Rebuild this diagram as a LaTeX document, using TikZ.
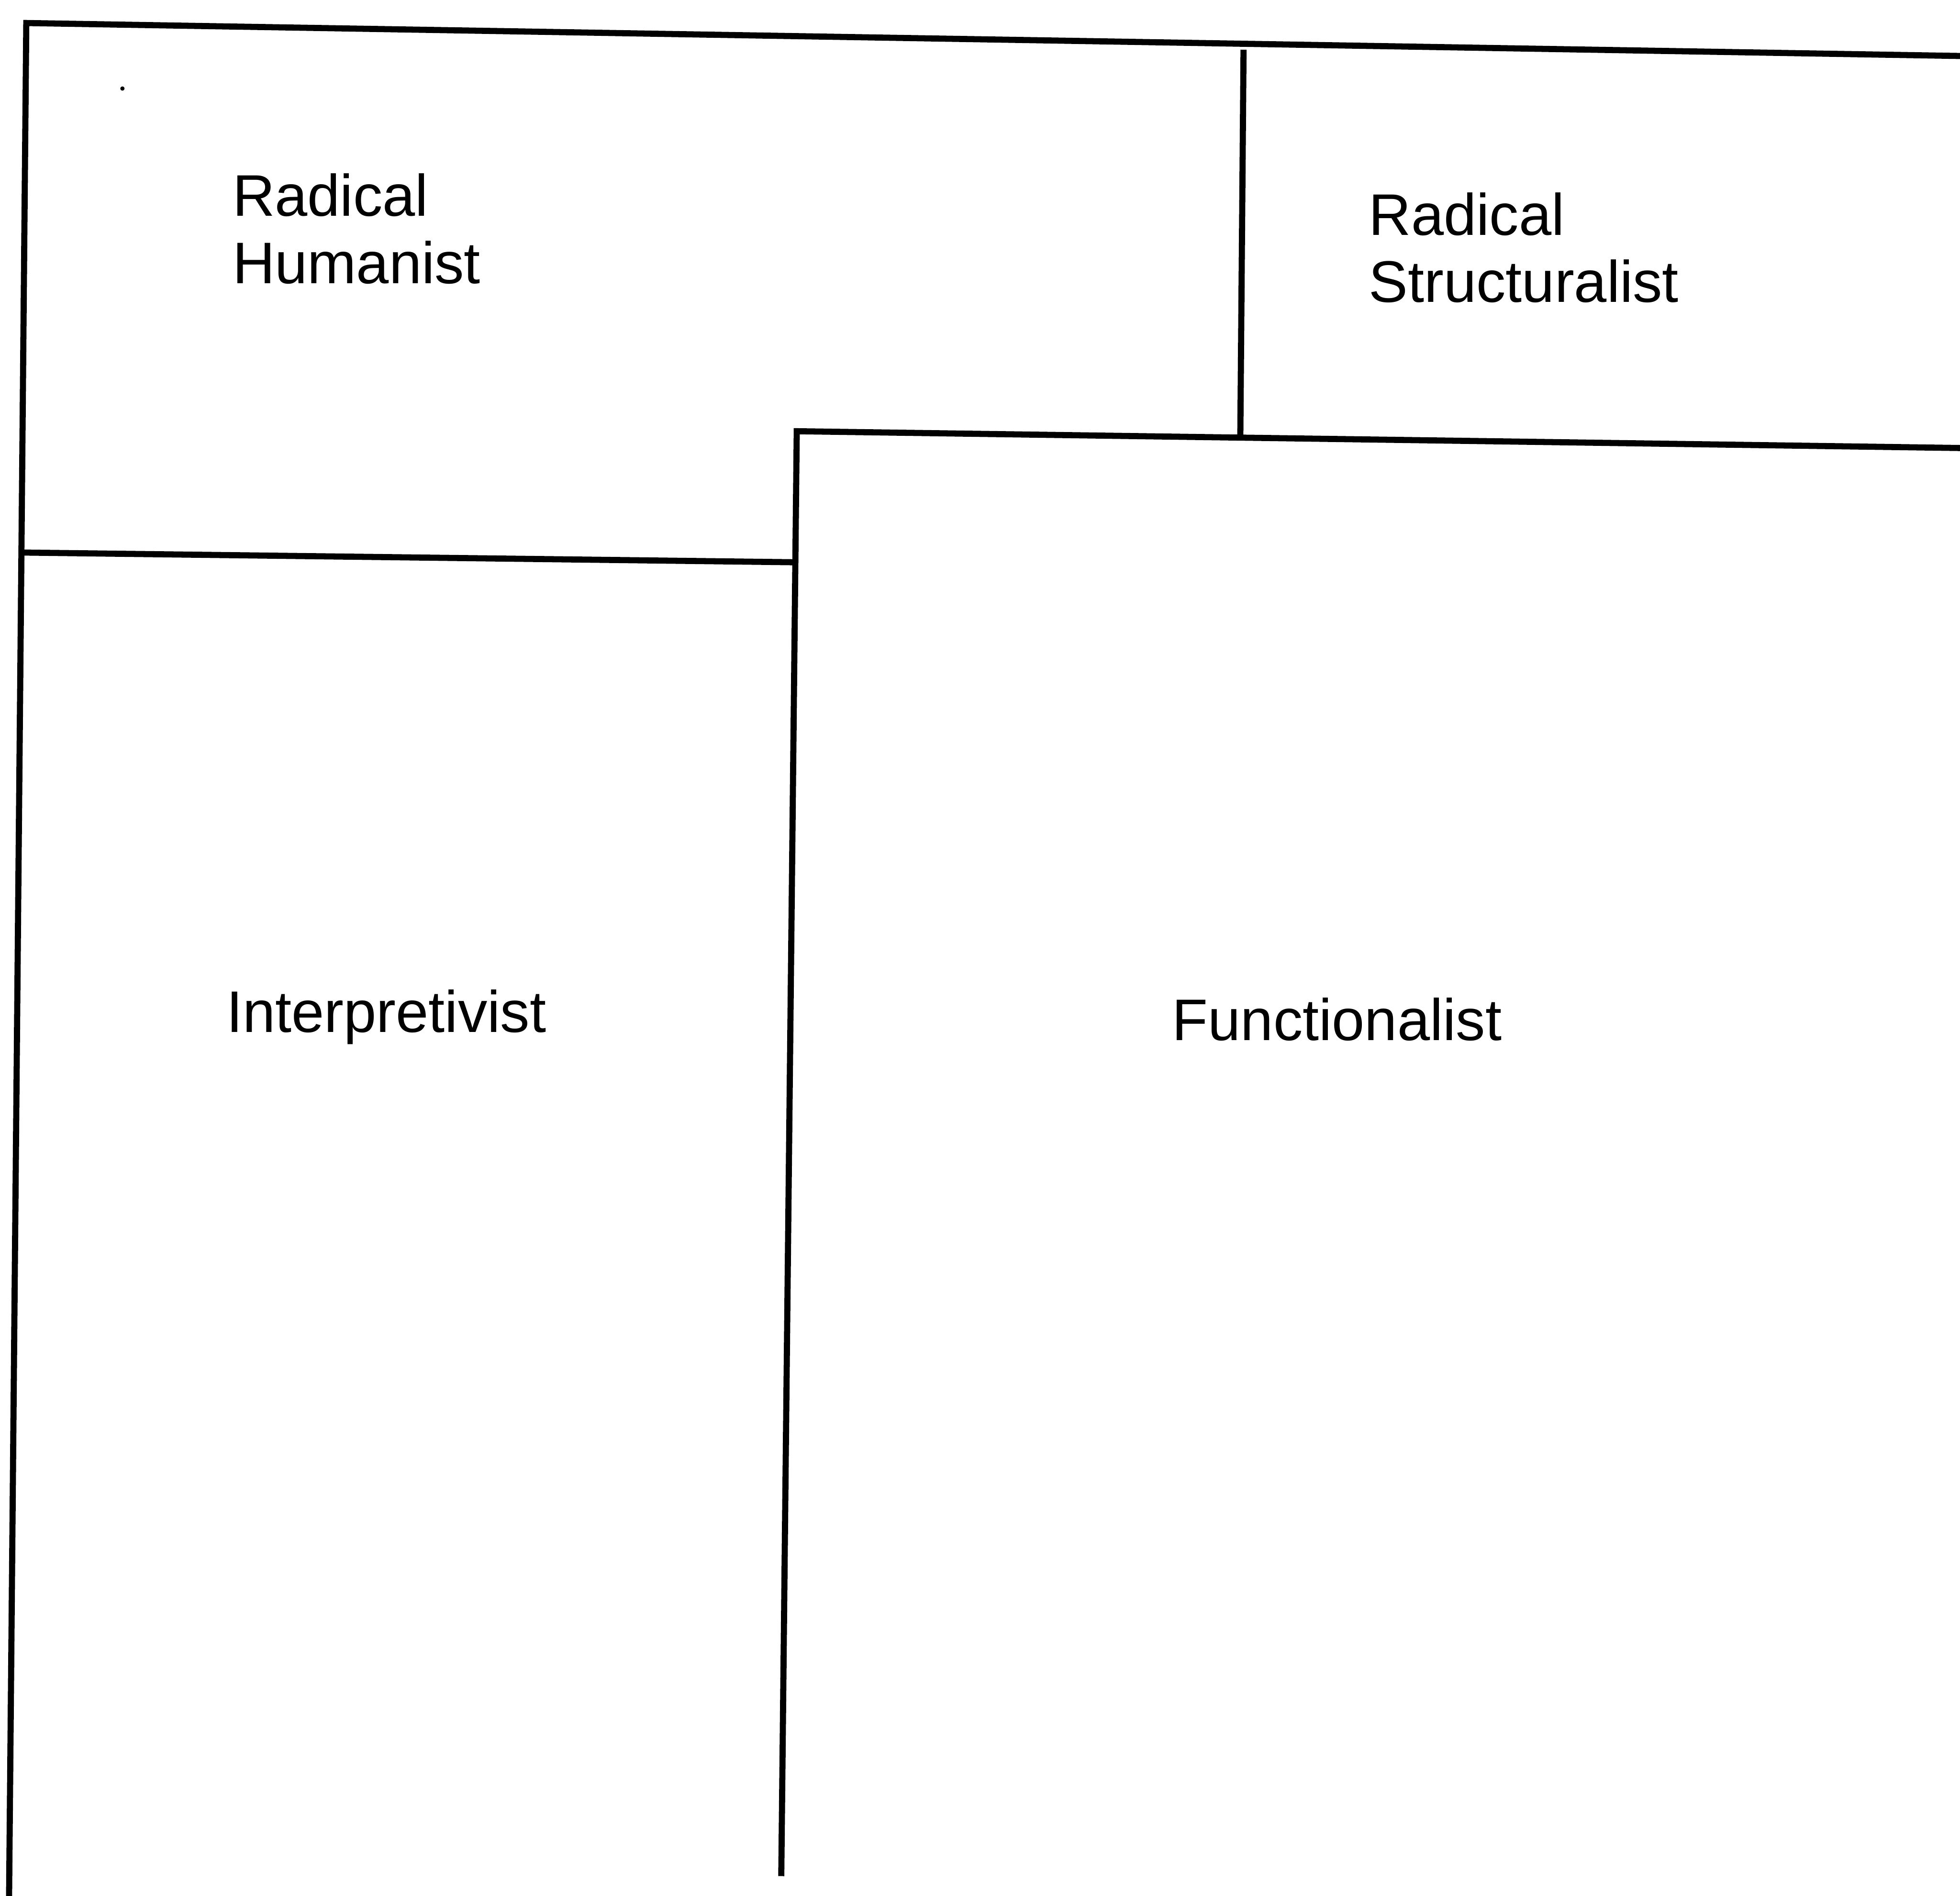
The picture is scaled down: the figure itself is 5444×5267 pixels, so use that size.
\documentclass[tikz,border=0pt]{standalone}
\usepackage{fontspec}
\setmainfont{Liberation Sans}
\begin{document}
\begin{tikzpicture}[
    x=0.1pt, y=-0.1pt,
    rule/.style={line width=1.7pt, line join=miter, line cap=butt},
    quadlabel/.style={inner sep=0pt, outer sep=0pt, anchor=base west,
      align=left, font=\fontsize{16.3}{18.7}\selectfont}
  ]
  \useasboundingbox (0,0) rectangle (5444,5267);

  % corner points of the frames
  \coordinate (outerR)  at (5470,156);
  \coordinate (outerTL) at (73,64);
  \coordinate (outerB)  at (25,5290);
  \coordinate (interL)  at (60,1535);
  \coordinate (interR)  at (2205,1562);
  \coordinate (funcR)   at (5470,1245);
  \coordinate (funcTL)  at (2213,1198);
  \coordinate (funcB)   at (2170,5212);
  \coordinate (divT)    at (3454,138);
  \coordinate (divB)    at (3445,1212);

  % outer frame (top and left edges)
  \draw[rule] (outerR) -- (outerTL) -- (outerB);
  % top edge of the interpretivist box
  \draw[rule] (interL) -- (interR);
  % functionalist box (top and left edges)
  \draw[rule] (funcR) -- (funcTL) -- (funcB);
  % divider between the two radical quadrants
  \draw[rule] (divT) -- (divB);

  % stray mark near the top-left corner
  \fill (340,246) circle[radius=0.6pt];

  % quadrant labels (anchored on the baseline of the last line)
  \node[quadlabel] (humanist) at (646,787) {Radical\\Humanist};
  \node[quadlabel] (structuralist) at (3802,840) {Radical\\Structuralist};
  \node[quadlabel] (interpretivist) at (629,2868) {Interpretivist};
  \node[quadlabel] (functionalist) at (3256,2890) {Functionalist};
\end{tikzpicture}
\end{document}
